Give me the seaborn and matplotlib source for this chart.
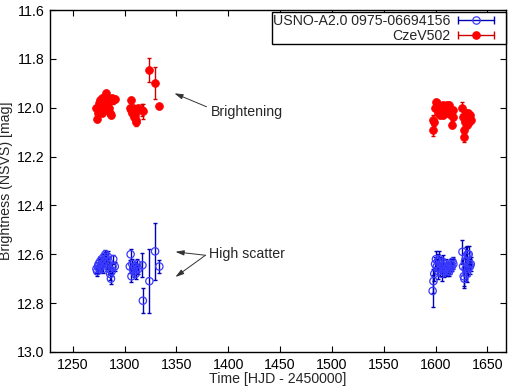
import numpy as np
import pandas as pd
import matplotlib
matplotlib.use('Agg')
import matplotlib.pyplot as plt
from matplotlib.lines import Line2D
import seaborn as sns

# 觀測時間 (HJD - 2450000)，兩顆星同一批觀測
hjd = [1272.8, 1273.5, 1274.2, 1274.9, 1275.6, 1276.3, 1277.0, 1277.8, 1278.5, 1279.2,
       1280.0, 1280.8, 1281.5, 1282.3, 1283.0, 1283.8, 1284.5, 1285.3, 1286.0, 1286.8,
       1287.5, 1288.3, 1289.0, 1290.5,
       1305.0, 1305.8, 1306.6, 1307.4, 1308.2, 1309.0, 1309.8, 1310.6, 1311.4, 1312.3, 1313.2,
       1317.2, 1317.6, 1323.9, 1329.4, 1333.5,
       1597.2, 1598.0, 1598.8, 1599.6, 1600.4, 1601.2, 1602.0, 1602.8, 1603.6, 1604.4,
       1605.2, 1606.0, 1606.8, 1607.6, 1608.4, 1609.2, 1610.0, 1610.8, 1611.6, 1612.4,
       1613.2, 1614.0, 1614.8, 1615.6, 1616.4, 1617.2,
       1626.0, 1626.6, 1627.2, 1627.8, 1628.4, 1629.0, 1629.6, 1630.2, 1630.8, 1631.4,
       1632.0, 1632.6, 1633.2, 1634.0]

# CzeV502 (紅)
red_mag = [12.00, 12.045, 12.02, 11.98, 12.01, 11.97, 11.99, 12.02, 11.96, 12.00,
           12.01, 11.97, 11.95, 11.94, 11.98, 11.96, 11.97, 12.00, 12.02, 12.03,
           11.97, 11.96, 11.97, 11.965,
           12.00, 11.97, 12.01, 12.02, 12.00, 12.04, 12.03, 12.06, 12.05, 12.01, 12.00,
           12.01, 12.015, 11.845, 11.898, 11.995,
           12.05, 12.09, 12.06, 12.00, 11.975, 11.98, 12.00, 12.02, 12.01, 12.03,
           12.00, 12.02, 11.99, 12.03, 12.02, 12.00, 12.01, 11.99, 12.02, 12.00,
           11.99, 12.01, 12.03, 12.07, 12.04, 12.01,
           12.00, 12.04, 12.09, 12.12, 12.06, 12.03, 12.02, 12.05, 12.07, 12.02,
           12.04, 12.06, 12.03, 12.05]
red_err = [0.012, 0.015, 0.012, 0.012, 0.013, 0.012, 0.012, 0.013, 0.012, 0.012,
           0.012, 0.013, 0.012, 0.012, 0.012, 0.012, 0.013, 0.012, 0.012, 0.013,
           0.012, 0.012, 0.013, 0.012,
           0.013, 0.012, 0.013, 0.012, 0.012, 0.013, 0.012, 0.014, 0.013, 0.012, 0.013,
           0.025, 0.03, 0.05, 0.065, 0.012,
           0.02, 0.025, 0.015, 0.012, 0.012, 0.012, 0.012, 0.013, 0.012, 0.012,
           0.012, 0.012, 0.012, 0.012, 0.012, 0.012, 0.012, 0.012, 0.012, 0.012,
           0.012, 0.012, 0.013, 0.015, 0.012, 0.012,
           0.025, 0.015, 0.015, 0.022, 0.013, 0.012, 0.012, 0.013, 0.013, 0.012,
           0.012, 0.013, 0.012, 0.012]

# USNO-A2.0 0975-06694156 (藍)
blue_mag = [12.66, 12.67, 12.65, 12.64, 12.66, 12.63, 12.65, 12.62, 12.64, 12.66,
            12.63, 12.61, 12.60, 12.62, 12.64, 12.61, 12.63, 12.66, 12.68, 12.70,
            12.67, 12.65, 12.62, 12.65,
            12.65, 12.60, 12.69, 12.64, 12.66, 12.67, 12.65, 12.68, 12.66, 12.64, 12.66,
            12.645, 12.79, 12.71, 12.588, 12.65,
            12.75, 12.71, 12.68, 12.64, 12.62, 12.65, 12.63, 12.67, 12.62, 12.66,
            12.64, 12.68, 12.63, 12.65, 12.67, 12.66, 12.64, 12.67, 12.66, 12.65,
            12.67, 12.66, 12.64, 12.65, 12.63, 12.64,
            12.59, 12.65, 12.69, 12.70, 12.63, 12.66, 12.61, 12.68, 12.60, 12.66,
            12.60, 12.64, 12.65, 12.64]
blue_err = [0.018, 0.02, 0.018, 0.02, 0.018, 0.02, 0.018, 0.02, 0.022, 0.018,
            0.02, 0.02, 0.018, 0.02, 0.02, 0.022, 0.02, 0.02, 0.025, 0.022,
            0.02, 0.02, 0.018, 0.02,
            0.025, 0.022, 0.025, 0.02, 0.02, 0.022, 0.02, 0.022, 0.02, 0.022, 0.02,
            0.05, 0.052, 0.13, 0.117, 0.027,
            0.065, 0.05, 0.03, 0.03, 0.035, 0.03, 0.03, 0.03, 0.035, 0.03,
            0.03, 0.03, 0.028, 0.025, 0.025, 0.025, 0.02, 0.02, 0.02, 0.02,
            0.02, 0.02, 0.02, 0.02, 0.02, 0.02,
            0.05, 0.035, 0.04, 0.04, 0.035, 0.05, 0.04, 0.035, 0.035, 0.03,
            0.035, 0.03, 0.03, 0.03]

label_blue = 'USNO-A2.0 0975-06694156'
label_red = 'CzeV502'

blue_bar, blue_pt = '#0000b4', '#3a3aff'
red_bar, red_pt = '#d00000', '#ff0000'
fs = 10.2

sns.set_style('ticks')
plt.rcParams['font.family'] = ['Liberation Sans', 'DejaVu Sans']
plt.rcParams['font.size'] = fs

df = pd.DataFrame({'hjd': hjd, 'red': red_mag, 'red_err': red_err,
                   'blue': blue_mag, 'blue_err': blue_err})

fig = plt.figure(figsize=(5.1, 3.86), dpi=100)
ax = fig.add_axes([50 / 510, 34 / 386, 456 / 510, 342 / 386])

# 誤差棒
ax.errorbar(df['hjd'], df['red'], yerr=df['red_err'], fmt='none',
            ecolor=red_bar, elinewidth=1.0, capsize=1.6, capthick=1.0, zorder=2)
ax.errorbar(df['hjd'], df['blue'], yerr=df['blue_err'], fmt='none',
            ecolor=blue_bar, elinewidth=1.0, capsize=1.6, capthick=1.0, zorder=2)

# 資料點
sns.scatterplot(data=df, x='hjd', y='red', ax=ax, color=red_pt, edgecolor=red_pt,
                s=32, linewidth=0.5, zorder=3)
sns.scatterplot(data=df, x='hjd', y='blue', ax=ax, color=blue_pt, edgecolor=blue_pt,
                facecolor='none', s=28, linewidth=0.9, zorder=3)

ax.set_xlim(1228, 1668)
ax.set_ylim(13.0, 11.6)
ax.set_xticks(np.arange(1250, 1651, 50))
ax.set_yticks(np.arange(11.6, 13.01, 0.2))
ax.set_yticklabels(['%.1f' % v for v in np.arange(11.6, 13.01, 0.2)])
ax.tick_params(direction='in', top=True, right=True, length=4, width=0.8,
               labelsize=fs, pad=4, colors='black')
for sp in ax.spines.values():
    sp.set_visible(True)
    sp.set_linewidth(1.0)
    sp.set_color('black')

ax.set_xlabel('Time [HJD - 2450000]', fontsize=fs, labelpad=0)
ax.set_ylabel('Brightness (NSVS) [mag]', fontsize=fs, labelpad=3)

# 註解
arrow = dict(arrowstyle='-|>,head_length=0.5,head_width=0.15', color='#333333',
             lw=0.7, shrinkA=0, shrinkB=0)
ax.annotate('', xy=(1348, 11.941), xytext=(1379, 11.996), arrowprops=arrow)
ax.text(1383, 12.018, 'Brightening', ha='left', va='center', fontsize=fs)
ax.annotate('', xy=(1349, 12.59), xytext=(1378, 12.604), arrowprops=arrow)
ax.annotate('', xy=(1349, 12.693), xytext=(1378, 12.604), arrowprops=arrow)
ax.text(1381, 12.600, 'High scatter', ha='left', va='center', fontsize=fs)


class ErrHandler:
    # 水平誤差棒樣式的圖例符號，右側留白
    def __init__(self, bar, pt, fill):
        self.bar, self.pt, self.fill = bar, pt, fill

    def legend_artist(self, legend, orig_handle, fontsize, handlebox):
        x0, y0 = handlebox.xdescent, handlebox.ydescent
        w, h = handlebox.width * 0.78, handlebox.height
        ym = y0 + h / 2
        tr = handlebox.get_transform()
        line = Line2D([x0, x0 + w], [ym, ym], color=self.bar, lw=1.0, transform=tr)
        caps = Line2D([x0, x0 + w], [ym, ym], ls='none', marker='|', ms=6,
                      mew=1.0, color=self.bar, transform=tr)
        dot = Line2D([x0 + w / 2], [ym], ls='none', marker='o', ms=5.3,
                     mfc=self.fill, mec=self.pt, mew=0.9, transform=tr)
        for a in (line, caps, dot):
            handlebox.add_artist(a)
        return line


h_blue = Line2D([], [])
h_red = Line2D([], [])
ax.legend([h_blue, h_red], [label_blue, label_red], loc='upper right',
          bbox_to_anchor=(1.0, 0.993), borderaxespad=0, markerfirst=False,
          fancybox=False, framealpha=1, edgecolor='black', fontsize=fs,
          handlelength=3.3, handletextpad=0.5, labelspacing=0.05, borderpad=0.1,
          handler_map={h_blue: ErrHandler(blue_bar, blue_pt, 'none'),
                       h_red: ErrHandler(red_bar, red_pt, red_pt)})
ax.get_legend().get_frame().set_linewidth(1.0)

fig.savefig('out.png', dpi=100)
